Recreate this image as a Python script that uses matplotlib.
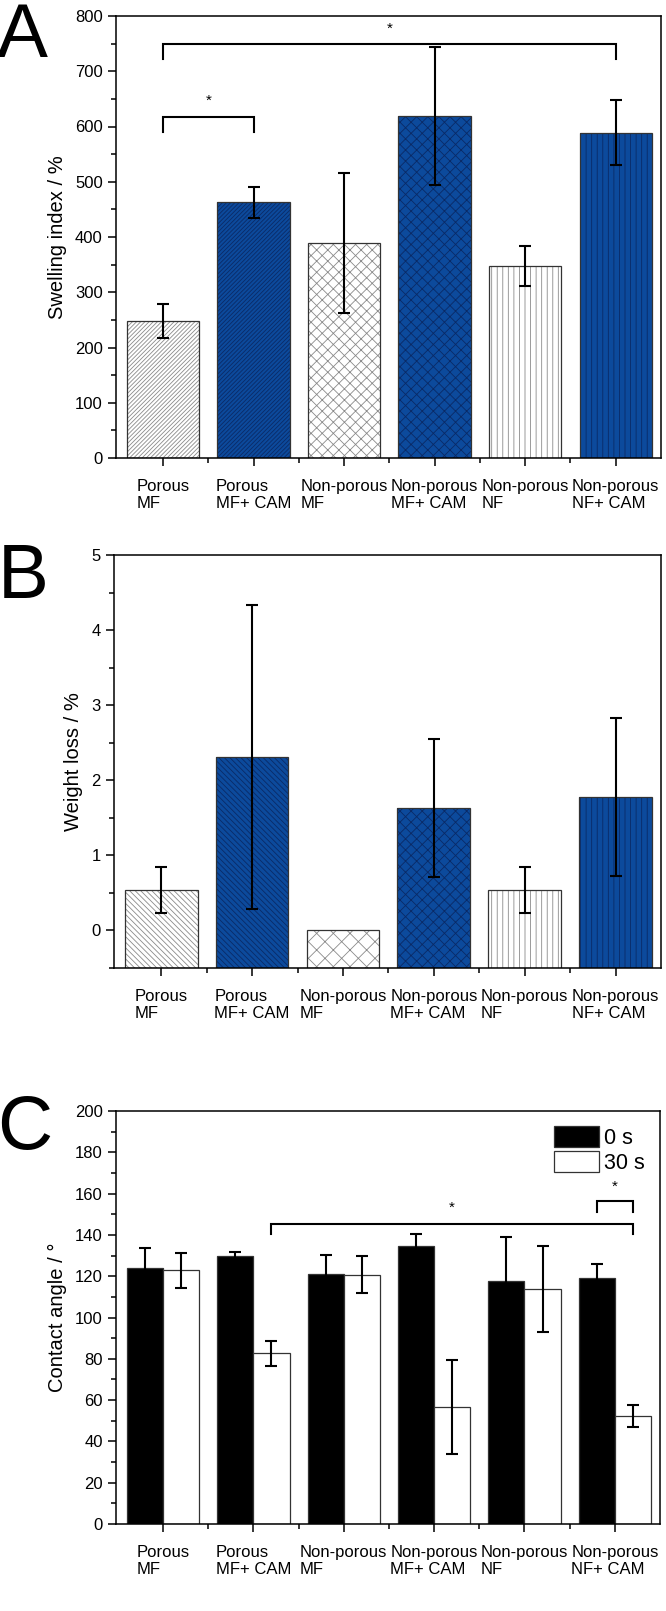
import numpy as np
import matplotlib
matplotlib.use('Agg')
from matplotlib import pyplot as plt
from matplotlib.patches import Patch
from matplotlib.ticker import MultipleLocator

plt.rcParams['font.family'] = ['Liberation Sans', 'DejaVu Sans']
plt.rcParams['hatch.linewidth'] = 0.6

categories = ['Porous\nMF', 'Porous\nMF+ CAM', 'Non-porous\nMF',
              'Non-porous\nMF+ CAM', 'Non-porous\nNF', 'Non-porous\nNF+ CAM']

# A - swelling index
swelling = [248, 463, 389, 619, 348, 589]
swelling_err = [30, 28, 126, 125, 36, 59]

# B - weight loss
weight_loss = [0.54, 2.31, 0.0, 1.63, 0.54, 1.78]
weight_loss_err = [0.31, 2.02, 0.0, 0.92, 0.31, 1.05]

# C - contact angle
angle_0s = [124.0, 130.0, 121.1, 134.6, 117.5, 119.3]
angle_0s_err = [9.7, 1.9, 9.0, 5.6, 21.6, 6.7]
angle_30s = [122.8, 82.6, 120.7, 56.8, 113.8, 52.5]
angle_30s_err = [8.4, 6.0, 9.0, 22.8, 20.7, 5.3]

# significance brackets: (x start, x end, height, leg drop, star offset)
brackets_a = [(1, 6, 750, 27, 27), (1, 2, 617, 27, 30)]
brackets_c = [(2.2, 6.2, 145.5, 5.2, 7.5), (5.8, 6.2, 156.3, 5.3, 7)]

blue = '#0c4a9c'
edge = '#333333'
hatches_a = ['/' * 8, '/' * 8, 'xxx', 'xxx', '|||', '|||']
hatches_b = ['\\' * 6, '\\' * 6, 'xx', 'xxx', '|||', '|||']
fills = ['white', blue] * 3
hatch_cols = ['#8a8a8a', '#0a2a66'] * 3

W, H = 666, 1611
fig = plt.figure(figsize=(W / 100, H / 100), dpi=100)


def px_axes(left, top, right, bottom):
    return fig.add_axes([left / W, 1 - bottom / H, (right - left) / W, (bottom - top) / H])


def style(ax, ylabel):
    ax.set_xlim(0.48, 6.5)
    ax.set_xticks(np.arange(1, 7))
    ax.set_xticklabels(categories, fontsize=12, linespacing=1.15)
    for t in ax.get_xticklabels():
        t.set_multialignment('left')
    ax.set_xticks(np.arange(1.5, 6, 1), minor=True)
    ax.tick_params(which='major', direction='out', length=6, width=1.1, labelsize=12)
    ax.tick_params(axis='x', which='major', length=6, pad=9)
    ax.tick_params(which='minor', direction='out', length=3.5, width=1.1)
    ax.set_ylabel(ylabel, fontsize=14.5, labelpad=6)
    for s in ax.spines.values():
        s.set_linewidth(1.1)


def hatched_bars(ax, x, vals, base, hatches, width=0.8):
    vals = np.array(vals)
    for i in range(len(x)):
        ax.bar(x[i], vals[i] - base, width, bottom=base, color=fills[i],
               edgecolor=hatch_cols[i], linewidth=0, hatch=hatches[i], zorder=2)
        ax.bar(x[i], vals[i] - base, width, bottom=base, fill=False,
               edgecolor=edge, linewidth=0.9, zorder=2.5)


def err(ax, x, vals, errs):
    x, vals, errs = np.array(x), np.array(vals), np.array(errs)
    m = errs > 0
    ax.errorbar(x[m], vals[m], yerr=errs[m], fmt='none', ecolor='k',
                elinewidth=1.5, capsize=4, capthick=1.5, zorder=3)


def brackets(ax, items):
    for x0, x1, y, drop, st in items:
        ax.plot([x0, x0, x1, x1], [y - drop, y, y, y - drop], color='k', lw=1.5,
                solid_joinstyle='miter', zorder=4)
        ax.text((x0 + x1) / 2, y + st, '*', ha='center', va='center', fontsize=11)


x = np.arange(1, 7)

# ---- A ----
ax1 = px_axes(116, 16, 661, 458)
hatched_bars(ax1, x, swelling, 0, hatches_a)
err(ax1, x, swelling, swelling_err)
brackets(ax1, brackets_a)
ax1.set_ylim(0, 800)
ax1.yaxis.set_major_locator(MultipleLocator(100))
ax1.yaxis.set_minor_locator(MultipleLocator(50))
style(ax1, 'Swelling index / %')

# ---- B ----
ax2 = px_axes(114, 555, 661, 968)
hatched_bars(ax2, x, weight_loss, -0.5, hatches_b)
err(ax2, x, weight_loss, weight_loss_err)
ax2.set_ylim(-0.5, 5)
ax2.yaxis.set_major_locator(MultipleLocator(1))
ax2.yaxis.set_minor_locator(MultipleLocator(0.5))
style(ax2, 'Weight loss / %')

# ---- C ----
ax3 = px_axes(116, 1111, 660, 1524)
w = 0.4
ax3.bar(x - w / 2, angle_0s, w, color='black', edgecolor=edge, linewidth=0.9, zorder=2)
ax3.bar(x + w / 2, angle_30s, w, color='white', edgecolor=edge, linewidth=0.9, zorder=2)
err(ax3, x - w / 2, angle_0s, angle_0s_err)
err(ax3, x + w / 2, angle_30s, angle_30s_err)
brackets(ax3, brackets_c)
ax3.set_ylim(0, 200)
ax3.yaxis.set_major_locator(MultipleLocator(20))
ax3.yaxis.set_minor_locator(MultipleLocator(10))
style(ax3, 'Contact angle / \u00b0')
handles = [Patch(facecolor='black', edgecolor=edge, linewidth=0.9),
           Patch(facecolor='white', edgecolor=edge, linewidth=0.9)]
ax3.legend(handles, ['0 s', '30 s'], loc='upper right', frameon=False, fontsize=15.5,
           handlelength=2.1, handleheight=1.1, labelspacing=0.12,
           handletextpad=0.25, borderaxespad=0.5, borderpad=0.2)

# panel letters
for letter, base_y in [('A', 57), ('B', 598), ('C', 1149)]:
    fig.text(-0.004, 1 - base_y / H, letter, fontsize=55, va='baseline', ha='left')

fig.savefig('out.png', dpi=100)
